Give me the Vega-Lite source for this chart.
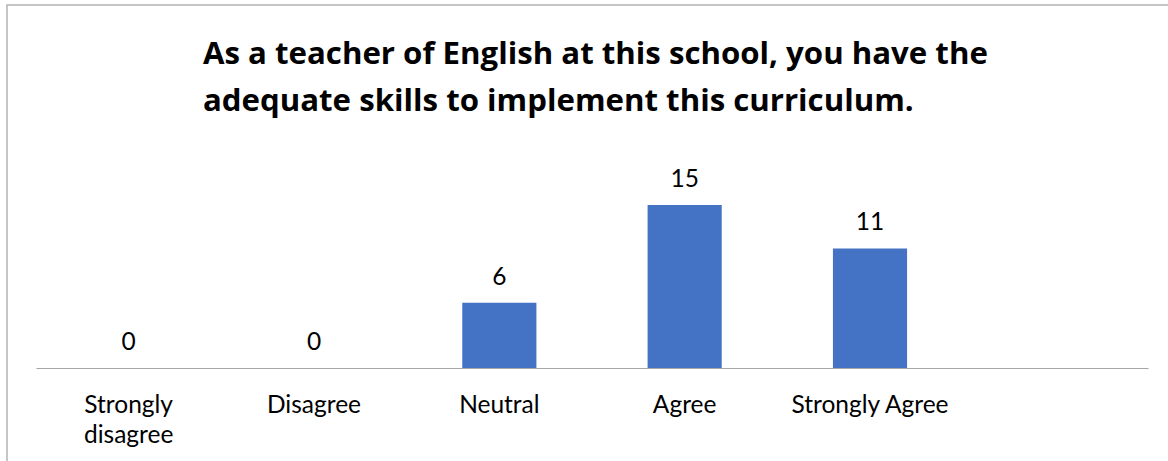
{
  "$schema": "https://vega.github.io/schema/vega-lite/v6.json",
  "autosize": {"type": "none"},
  "width": 1171,
  "height": 466,
  "padding": {"left": 7, "top": 5, "right": -10, "bottom": -10},
  "background": "white",
  "config": {
    "view": {"stroke": "#b4b4b4", "strokeWidth": 1.5},
    "font": "Lato"
  },
  "title": {
    "text": ["As a teacher of English at this school, you have the", "adequate skills to implement this curriculum."],
    "anchor": "start",
    "frame": "group",
    "align": "left",
    "baseline": "alphabetic",
    "offset": 0,
    "dx": 196,
    "dy": 137,
    "font": "Open Sans",
    "fontSize": 31.2,
    "fontWeight": "bold",
    "color": "#000000",
    "lineHeight": 47
  },
  "data": {
    "values": [
      {"response": "Strongly disagree", "count": 0},
      {"response": "Disagree", "count": 0},
      {"response": "Neutral", "count": 6},
      {"response": "Agree", "count": 15},
      {"response": "Strongly Agree", "count": 11}
    ]
  },
  "encoding": {
    "x": {
      "field": "response",
      "type": "nominal",
      "sort": null,
      "scale": {
        "domain": ["Strongly disagree", "Disagree", "Neutral", "Agree", "Strongly Agree", ""],
        "range": [29, 1141],
        "paddingInner": 0.6,
        "paddingOuter": 0.3
      },
      "axis": {
        "title": null,
        "offset": -103,
        "ticks": false,
        "grid": false,
        "domainColor": "#a6a6a6",
        "domainWidth": 1.2,
        "labelAngle": 0,
        "labelFont": "Lato",
        "labelFontSize": 24.5,
        "labelColor": "#000000",
        "labelPadding": 44,
        "labelLineHeight": 30,
        "labelBaseline": "alphabetic",
        "labelLimit": 300,
        "labelExpr": "datum.value == 'Strongly disagree' ? ['Strongly', 'disagree'] : datum.value"
      }
    },
    "y": {
      "field": "count",
      "type": "quantitative",
      "scale": {"domain": [0, 20], "range": [363, 145.6]},
      "axis": null
    }
  },
  "layer": [
    {"mark": {"type": "bar", "color": "#4472C4"}},
    {
      "mark": {
        "type": "text",
        "baseline": "alphabetic",
        "dy": -18,
        "font": "Lato",
        "fontSize": 24.5,
        "color": "#000000"
      },
      "encoding": {"text": {"field": "count", "type": "quantitative"}}
    }
  ]
}
